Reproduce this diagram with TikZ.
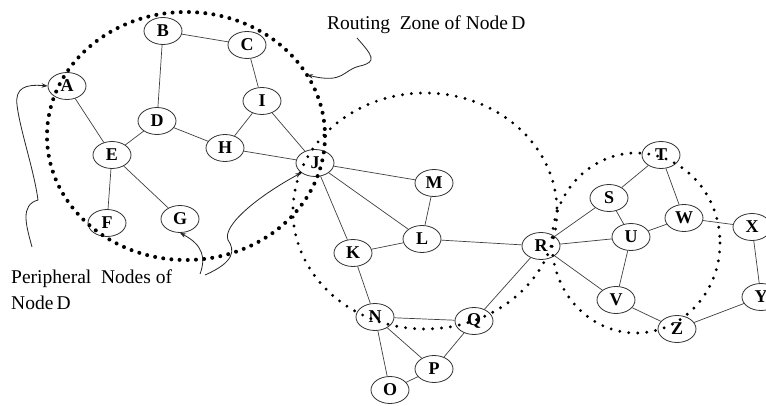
\documentclass[tikz,border=0pt]{standalone}
\usepackage{fontspec}
\setmainfont{Liberation Serif}
\usetikzlibrary{shapes.geometric,arrows.meta}
\begin{document}
\begin{tikzpicture}[x=1pt,y=-1pt,
  vtx/.style={ellipse,draw=black!80,line width=0.8pt,fill=white,
    minimum width=38pt,minimum height=27pt,inner sep=0pt,
    font=\fontsize{18}{18}\selectfont\bfseries},
  link/.style={draw=black!75,line width=0.7pt},
  zonebig/.style={draw=black,line width=4pt,line cap=round,dash pattern=on 0pt off 8.2pt},
  zone/.style={draw=black,line width=3.2pt,line cap=round,dash pattern=on 0pt off 9pt},
  note/.style={font=\fontsize{19.5}{26}\selectfont,inner sep=0pt,anchor=west,align=left},
  pointer/.style={draw=black!85,line width=0.8pt,-{Stealth[length=6pt,width=4.5pt]}}]
\path[use as bounding box,fill=white] (0,0) rectangle (766,406);

% nodes
\node[vtx] (A) at (67,86) {A};
\node[vtx] (B) at (163,31) {B};
\node[vtx] (C) at (247,45) {C};
\node[vtx] (D) at (157,121) {D};
\node[vtx] (E) at (112,155) {E};
\node[vtx] (F) at (107,223) {F};
\node[vtx] (G) at (180,219) {G};
\node[vtx] (H) at (225,148) {H};
\node[vtx] (I) at (262,101) {I};
\node[vtx] (J) at (315,163) {J};
\node[vtx] (K) at (353,253) {K};
\node[vtx] (L) at (422,239) {L};
\node[vtx] (M) at (434,183) {M};
\node[vtx] (N) at (375,317) {N};
\node[vtx] (O) at (390,390) {O};
\node[vtx] (P) at (434,369) {P};
\node[vtx] (Q) at (474,321) {Q};
\node[vtx] (R) at (541,246) {R};
\node[vtx] (S) at (609,198) {S};
\node[vtx] (T) at (661,155) {T};
\node[vtx] (U) at (631,237) {U};
\node[vtx] (V) at (616,300) {V};
\node[vtx] (W) at (684,218) {W};
\node[vtx] (X) at (752,227) {X};
\node[vtx] (Y) at (761,297) {Y};
\node[vtx] (Z) at (677,329) {Z};

% links
\foreach \a/\b in {A/E,B/D,B/C,C/I,D/E,D/H,I/H,I/J,H/J,E/F,E/G,
  J/M,J/L,J/K,M/L,K/L,L/R,K/N,N/Q,N/P,N/O,O/P,P/Q,Q/R,
  R/S,R/U,R/V,S/T,S/U,T/W,U/W,U/V,W/X,X/Y,V/Z,Z/Y}
  \draw[link] (\a) -- (\b);

% routing zones
\draw[zonebig] (186,136) ellipse [x radius=139,y radius=124];
\draw[zone] (425,211) ellipse [x radius=132,y radius=118];
\draw[zone] (636,243) ellipse [x radius=84,y radius=90];

% captions
\node[note] (cap1) at (327,25) {Routing\ \ Zone of Node\,D};
\node[note] (cap2) at (11,290) {Peripheral\ \ Nodes of\\Node\,D};

% pointers
\coordinate (p1) at (357,38);
\coordinate (t1) at (307,75);
\draw[pointer] (p1) .. controls (372,55) and (378,62) .. (360,66)
  .. controls (342,70) and (345,84) .. (t1);
\coordinate (p2) at (32,247);
\draw[pointer] (p2) .. controls (26,225) and (20,205) .. (38,200)
  .. controls (34,170) and (20,130) .. (17,105)
  .. controls (15,88) and (25,84) .. (A.west);
\coordinate (p3) at (200,274);
\draw[pointer] (p3) .. controls (206,258) and (203,245) .. (G.south);
\coordinate (p4) at (205,275);
\draw[pointer] (p4) .. controls (235,262) and (235,250) .. (228,240)
  .. controls (222,225) and (260,195) .. (J.south west);
\end{tikzpicture}
\end{document}
